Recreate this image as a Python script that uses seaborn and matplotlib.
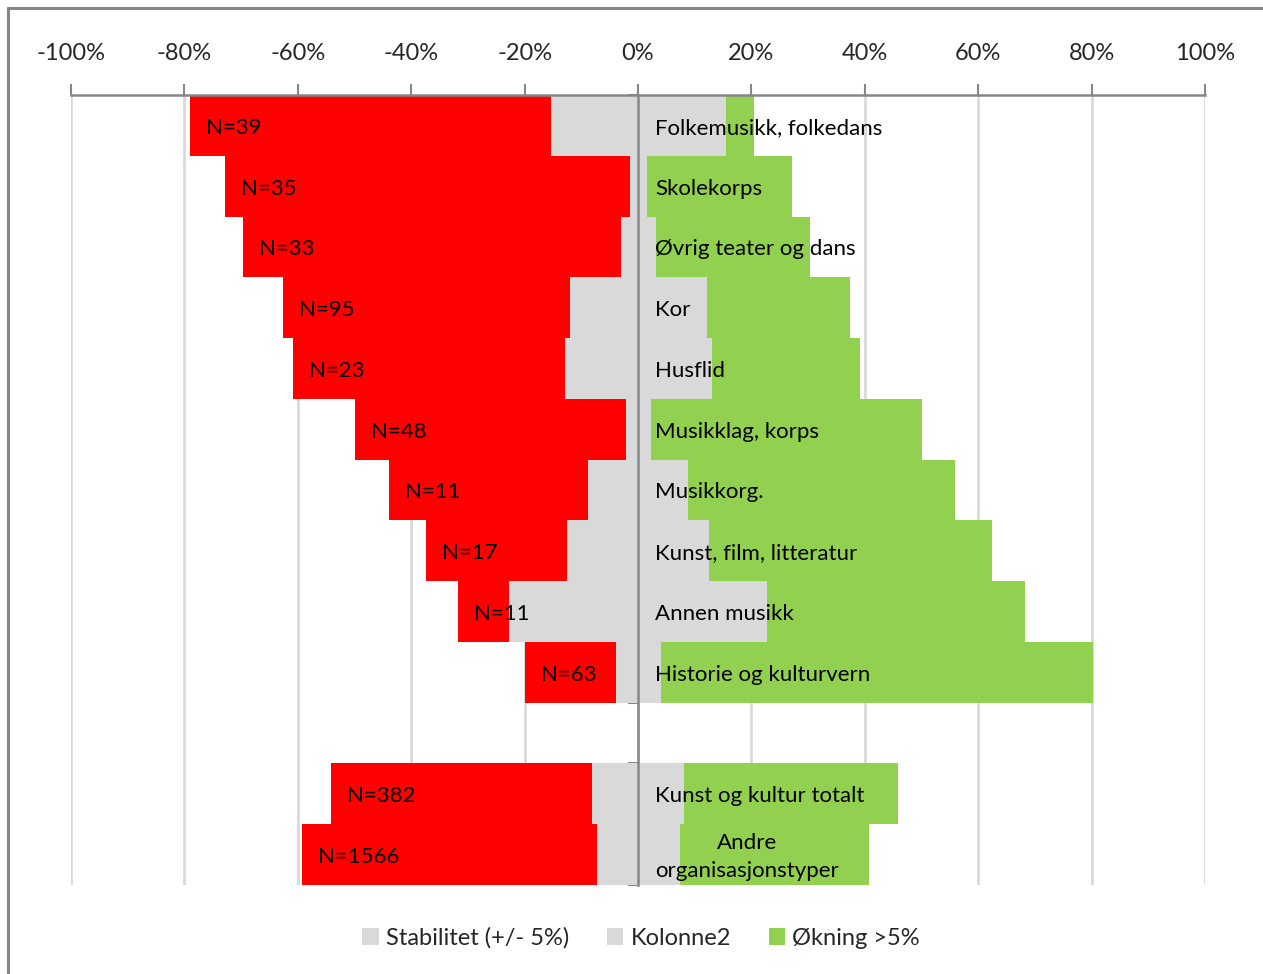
import matplotlib.pyplot as plt
import numpy as np
import pandas as pd
import seaborn as sns
from matplotlib.lines import Line2D

# Data (percent)
categories = ["Folkemusikk, folkedans", "Skolekorps", "Øvrig teater og dans", "Kor",
              "Husflid", "Musikklag, korps", "Musikkorg.", "Kunst, film, litteratur",
              "Annen musikk", "Historie og kulturvern", "",
              "Kunst og kultur totalt", "Andre\norganisasjonstyper"]
n_labels = ["N=39", "N=35", "N=33", "N=95", "N=23", "N=48", "N=11", "N=17",
            "N=11", "N=63", "", "N=382", "N=1566"]
nedgang = [63.7, 71.4, 66.7, 50.6, 47.9, 47.8, 35.1, 24.9, 8.9, 16.0, np.nan, 46.0, 52.1]
stabilitet = [15.3, 1.4, 3.0, 12.0, 12.9, 2.1, 8.8, 12.5, 22.8, 3.9, np.nan, 8.1, 7.2]
kolonne2 = [15.5, 1.6, 3.2, 12.2, 13.1, 2.3, 8.8, 12.5, 22.8, 4.1, np.nan, 8.1, 7.4]
okning = [5.0, 25.6, 27.1, 25.2, 26.1, 47.8, 47.1, 49.9, 45.5, 76.1, np.nan, 37.8, 33.3]

df = pd.DataFrame({"kategori": categories, "nedgang": nedgang, "stabilitet": stabilitet,
                   "kolonne2": kolonne2, "okning": okning})
# cumulative ends for the diverging stack
df["neg_total"] = -(df["nedgang"] + df["stabilitet"])
df["neg_stab"] = -df["stabilitet"]
df["pos_total"] = df["kolonne2"] + df["okning"]

RED = "#FF0000"
GREY = "#D9D9D9"
GREEN = "#92D050"
AXIS = "#868686"

sns.set_style("white")
plt.rcParams["font.family"] = ["Lato", "DejaVu Sans"]

fig = plt.figure(figsize=(12.63, 9.74), dpi=100)
ax = fig.add_axes([71 / 1263, 1 - 885 / 974, (1205 - 71) / 1263, (885 - 95) / 974])

common = dict(data=df, y="kategori", order=categories, orient="h", width=1.0,
              linewidth=0, errorbar=None, ax=ax)
sns.barplot(x="neg_total", color=RED, saturation=1, **common)
sns.barplot(x="neg_stab", color=GREY, saturation=1, label="Stabilitet (+/- 5%)", **common)
sns.barplot(x="pos_total", color=GREEN, saturation=1, label="Økning >5%", **common)
sns.barplot(x="kolonne2", color=GREY, saturation=1, label="Kolonne2", **common)
if ax.get_legend() is not None:
    ax.get_legend().remove()

ax.set_xlim(-100, 100)
ax.set_ylim(12.5, -0.5)
ax.set_xlabel("")
ax.set_ylabel("")

# top axis with percent labels
ticks = np.arange(-100, 101, 20)
ax.xaxis.tick_top()
ax.set_xticks(ticks)
ax.set_xticklabels([f"{t}%" for t in ticks], fontsize=17)
ax.tick_params(axis="x", direction="out", length=8, width=1.5, color=AXIS, pad=14)
ax.xaxis.grid(True, color=GREY, linewidth=2)
ax.set_axisbelow(True)

# category axis at 0 with ticks between rows
ax.spines["left"].set_position(("data", 0))
ax.set_yticks(np.arange(-0.5, 13, 1))
ax.set_yticklabels([])
ax.tick_params(axis="y", direction="out", length=7, width=1.5, color=AXIS, left=True)
for side in ["bottom", "right"]:
    ax.spines[side].set_visible(False)
for side in ["left", "top"]:
    ax.spines[side].set_color(AXIS)
    ax.spines[side].set_linewidth(1.8)
ax.spines["left"].set_zorder(5)

# labels
for i, row in df.iterrows():
    if row["kategori"] == "":
        continue
    ax.text(3, i + 0.04, row["kategori"], ha="left", va="center", multialignment="center",
            fontsize=16, linespacing=1.45, color="black", zorder=6)
    ax.text(row["neg_total"] + 2.8, i + 0.04, n_labels[i], ha="left", va="center",
            fontsize=16, color="black", zorder=6)

handles, labels = ax.get_legend_handles_labels()
lookup = dict(zip(labels, handles))
order = ["Stabilitet (+/- 5%)", "Kolonne2", "Økning >5%"]
fig.legend([lookup[k] for k in order], order, loc="center",
           bbox_to_anchor=(641 / 1263, 1 - 938 / 974), ncol=3, frameon=False,
           fontsize=17, handlelength=0.7, handleheight=0.7, handletextpad=0.3,
           columnspacing=1.6)

# chart border (left and top edges visible in the crop)
fig.add_artist(Line2D([8 / 1263, 8 / 1263], [0, 1 - 8 / 974], color=AXIS, lw=2.2,
                      transform=fig.transFigure))
fig.add_artist(Line2D([8 / 1263, 1], [1 - 8 / 974, 1 - 8 / 974], color=AXIS, lw=2.2,
                      transform=fig.transFigure))

fig.savefig("out.png", dpi=100)
